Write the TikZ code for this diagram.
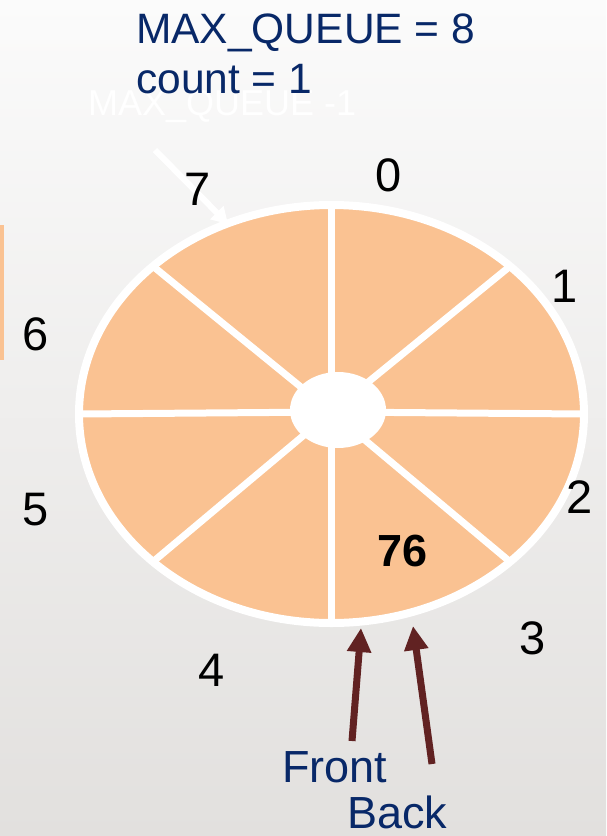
\documentclass[tikz,border=0pt]{standalone}
\usepackage{fontspec}
\setmainfont{Liberation Sans}
\usetikzlibrary{arrows.meta}
\definecolor{bgtop}{RGB}{251,251,251}
\definecolor{bgbot}{RGB}{226,224,222}
\definecolor{slice}{RGB}{250,194,146}
\definecolor{navy}{RGB}{8,40,104}
\definecolor{maroon}{RGB}{97,34,34}
\tikzset{
  idx/.style={inner sep=0pt, font=\fontsize{47}{47}\selectfont, text=black},
  hdr/.style={inner sep=0pt, anchor=base west, font=\fontsize{42.5}{42.5}\selectfont, text=navy},
  ptr/.style={inner sep=0pt, anchor=base west, font=\fontsize{45}{45}\selectfont, text=navy},
  ptrarrow/.style={draw=maroon, line width=7pt, -{Triangle[width=23pt,length=24pt]}},
  spoke/.style={draw=white, line width=7pt},
}
\begin{document}
\begin{tikzpicture}[x=1pt,y=-1pt]
\useasboundingbox (0,0) rectangle (606,836);
\shade[top color=bgtop, bottom color=bgbot] (0,0) rectangle (606,836);
% left orange bar
\fill[slice] (0,225) rectangle (4,360);
% ring
\fill[slice] (331.5,414) ellipse [x radius=252.5pt, y radius=209pt];
\foreach \a in {0,45,...,315}{
  \draw[spoke] (331.5,412) -- ({331.5+252.5*cos(\a)},{414+209*sin(\a)});
}
\draw[white, line width=8pt] (331.5,414) ellipse [x radius=252.5pt, y radius=209pt];
\fill[white] (338,410) ellipse [x radius=48pt, y radius=38pt];
% header text
\node[inner sep=0pt, anchor=base west, font=\fontsize{36}{36}\selectfont, text=white] (maxm1) at (88,115) {MAX\_QUEUE -1};
\node[hdr] (maxq) at (136,43) {MAX\_QUEUE = 8};
\node[hdr] (cnt) at (136,93) {count = 1};
% white arrow
\coordinate (wtail) at (155,150);
\coordinate (whead) at (228,224);
\draw[white, line width=6pt, -{Triangle[width=18pt,length=16pt]}] (wtail) -- (whead);
% indices
\node[idx] (i0) at (389,175) {0};
\node[idx] (i1) at (565,286) {1};
\node[idx] (i2) at (580,497) {2};
\node[idx] (i3) at (533,638) {3};
\node[idx] (i4) at (212,670) {4};
\node[idx] (i5) at (36,510) {5};
\node[idx] (i6) at (36,334) {6};
\node[idx] (i7) at (198,189) {7};
% value
\node[inner sep=0pt, font=\bfseries\fontsize{45}{45}\selectfont] (val) at (403,551) {76};
% front / back
\node[ptr] (front) at (282,782) {Front};
\node[ptr] (back) at (347,828) {Back};
\coordinate (ftail) at (352,741);
\coordinate (fhead) at (361,628);
\coordinate (btail) at (432,764);
\coordinate (bhead) at (413,626);
\draw[ptrarrow] (ftail) -- (fhead);
\draw[ptrarrow] (btail) -- (bhead);
\end{tikzpicture}
\end{document}
